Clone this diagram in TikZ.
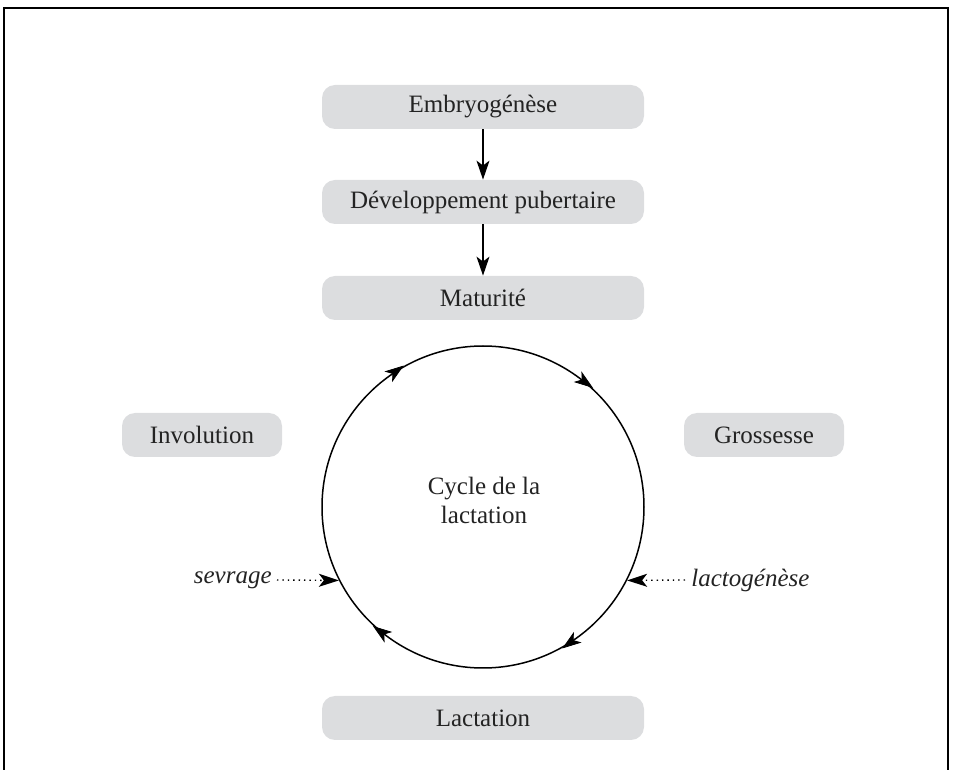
\documentclass[tikz,border=0pt]{standalone}
\usepackage{fontspec}
\setmainfont{Liberation Serif}
\usetikzlibrary{arrows.meta,decorations.markings}
\definecolor{boxgray}{RGB}{220,221,223}
\definecolor{txtgray}{RGB}{35,35,35}

\begin{document}
\begin{tikzpicture}[
      x=0.5pt,
      y=-0.5pt,
      font=\fontsize{12.5}{14.5}\selectfont,
      etape/.style={
        rounded corners=6.5pt,
        fill=boxgray,
        text=txtgray,
        minimum width=161pt,
        minimum height=22pt,
        inner sep=0pt
      },
      fleche/.style={
        -{Stealth[length=9.5pt,width=6.5pt,inset=2.5pt]},
        line width=0.6pt
      },
      pointille/.style={
        dotted,
        line width=0.7pt,
        -{Stealth[length=10pt,width=6.5pt,inset=2.5pt,line width=0.7pt,sep=0pt]}
      }
    ]
      \useasboundingbox (0,0) rectangle (955,770);
      \draw[line width=1pt] (4,770) -- (4,8) -- (948,8) -- (948,770);

      \node (embryo) at (483,107) [etape]{Embryogénèse};
      \node (puber) at (483,202) [etape]{Développement pubertaire};
      \node (matur) at (483,298) [etape]{Maturité};
      \node (lact) at (483,718) [etape]{Lactation};

      \node (invol) at (202,435) [etape,minimum width=80pt]{Involution};
      \node (gross) at (764,435) [etape,minimum width=80pt]{Grossesse};

      \node (cycle) at (483,507) [circle,draw,line width=0.75pt,minimum size=161pt]{};
      \node (cyclab) at (484,500) [align=center,text=txtgray]{Cycle de la\\lactation};

      \node (sevr) at (277,580) [anchor=east,inner sep=2.5pt,text=txtgray]{\textit{sevrage}};
      \node (lacto) at (685,580) [anchor=west,inner sep=3pt,text=txtgray]{\textit{lactogénèse}};

      \draw[fleche] (embryo) -- (puber);
      \draw[fleche] (puber) -- (matur);

      % sens horaire du cycle
      \path[postaction={decorate},decoration={markings,
          mark=at position 0.15 with {\arrow{Stealth[length=9.5pt,width=6.5pt,inset=2.5pt,reversed]}},
          mark=at position 0.35 with {\arrow{Stealth[length=9.5pt,width=6.5pt,inset=2.5pt,reversed]}},
          mark=at position 0.65 with {\arrow{Stealth[length=9.5pt,width=6.5pt,inset=2.5pt,reversed]}},
          mark=at position 0.85 with {\arrow{Stealth[length=9.5pt,width=6.5pt,inset=2.5pt,reversed]}}}]
        (cycle.center) circle (80.5pt);

      \draw[pointille] (sevr.east) -- (cycle.207);
      \draw[pointille] (lacto.west) -- (cycle.-27);

    \end{tikzpicture}
\end{document}
